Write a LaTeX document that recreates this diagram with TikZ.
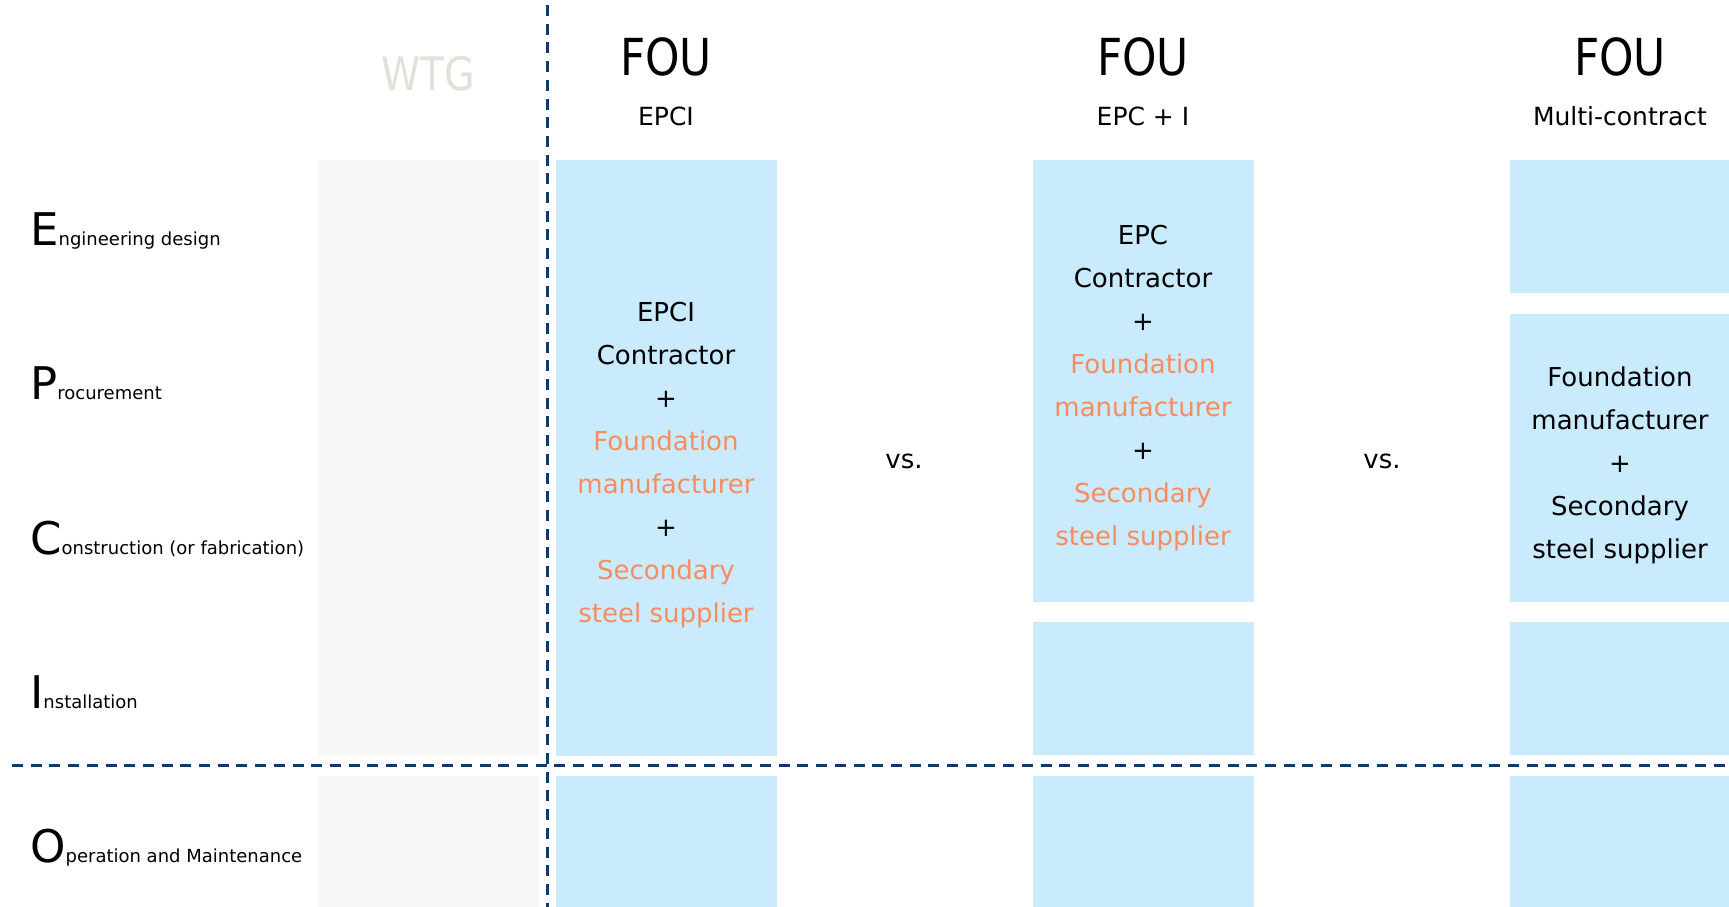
\documentclass[tikz,border=0pt]{standalone}
\usepackage{fontspec}
\setmainfont{DejaVu Sans}
\newfontfamily\headfont[FakeStretch=0.86]{DejaVu Sans}
\usetikzlibrary{positioning}
\definecolor{foublue}{HTML}{C9EBFD}
\definecolor{wtgfill}{HTML}{F8F8F6}
\definecolor{wtgtext}{HTML}{E2E0D8}
\definecolor{partner}{HTML}{F98C5E}
\definecolor{splitline}{HTML}{12396B}
\newcommand\partnertext[1]{\textcolor{partner}{#1}}

\begin{document}
\begin{tikzpicture}[x=1pt,y=-1pt,
  head/.style={font=\headfont\fontsize{51}{51}\selectfont,anchor=base},
  scheme/.style={font=\fontsize{25}{25}\selectfont,anchor=base},
  body/.style={font=\fontsize{26}{43}\selectfont,align=center},
  phase/.style={anchor=base west,inner sep=0pt},
  split/.style={splitline,line width=3.4pt,dash pattern=on 11pt off 7.7pt}]
\useasboundingbox (0,0) rectangle (1729,907);

% WTG column
\fill[wtgfill] (318,160) rectangle (539,756);
\fill[wtgfill] (318,776) rectangle (539,907);
\node[head,font=\headfont\fontsize{46}{46}\selectfont,text=wtgtext] (wtg) at (428,90) {WTG};

% FOU columns: left edge / top / bottom of each block
\foreach \x/\ya/\yb in {556/160/756,556/776/907,1033/160/602,1033/622/755,1033/776/907,
  1510/160/293,1510/314/602,1510/622/755,1510/776/907}
  \fill[foublue] (\x,\ya) rectangle ({\x+221},\yb);

\foreach \x/\s/\n in {666/EPCI/a,1143/EPC + I/b,1620/Multi-contract/c}{
  \node[head] (fou\n) at (\x,75) {FOU};
  \node[scheme] (scheme\n) at (\x,125) {\s};}

\node[body] (epci) at (666,465) {EPCI\\Contractor\\+\\\partnertext{Foundation}\\\partnertext{manufacturer}\\+\\\partnertext{Secondary}\\\partnertext{steel supplier}};
\node[body] (epc) at (1143,388) {EPC\\Contractor\\+\\\partnertext{Foundation}\\\partnertext{manufacturer}\\+\\\partnertext{Secondary}\\\partnertext{steel supplier}};
\node[body] (multi) at (1620,465) {Foundation\\manufacturer\\+\\Secondary\\steel supplier};
\node[body] (vsa) at (904,461) {vs.};
\node[body] (vsb) at (1382,461) {vs.};

% project phases
\foreach \y/\l/\r/\n in {245/E/ngineering design/eng,399/P/rocurement/proc,554/C/onstruction (or fabrication)/cons,
  708/I/nstallation/inst,862/O/peration and Maintenance/om}
  \node[phase] (\n) at (30,\y) {\fontsize{45}{45}\selectfont\l\fontsize{18}{18}\selectfont\r};

\draw[split] (547.5,5) -- (547.5,907);
\draw[split] (12,765.5) -- (1729,765.5);
\end{tikzpicture}
\end{document}
